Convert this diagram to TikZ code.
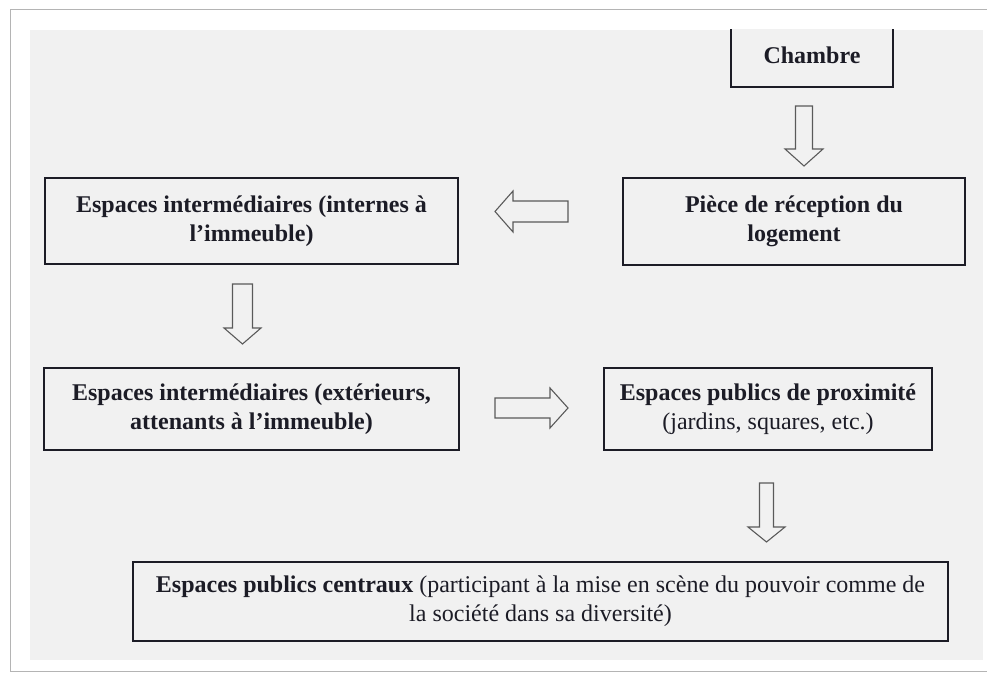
\documentclass[tikz,border=0pt]{standalone}
\usepackage{fontspec}
\setmainfont{Liberation Serif}
\definecolor{panel}{HTML}{F1F1F1}
\definecolor{ink}{HTML}{1C1C26}
\definecolor{frameline}{HTML}{B4B4B4}
\definecolor{arrowgray}{HTML}{5A5A5A}
\tikzset{
  box/.style={draw=ink, line width=1.6pt, fill=panel, text=ink, align=center,
    inner sep=0pt, font=\fontsize{24}{29}\selectfont},
  arrowline/.style={draw=arrowgray, line width=1.1pt, fill=panel, line join=miter},
  pics/blockarrow/.style n args={4}{code={
    \draw[arrowline] (0,-#2) -- ({#1-#4},-#2) -- ({#1-#4},-#3) -- (#1,0)
      -- ({#1-#4},#3) -- ({#1-#4},#2) -- (0,#2) -- cycle;
  }}
}
\begin{document}
\begin{tikzpicture}[x=1pt,y=1pt]
  \useasboundingbox (0,0) rectangle (987,674);
  % page with its thin frame
  \fill[white] (0,0) rectangle (987,674);
  \draw[frameline, line width=1pt] (987,2) -- (10,2) -- (10,664) -- (987,664);
  % grey panel holding the chart
  \fill[panel] (30,14) rectangle (983,644);

  \begin{scope}
    \clip (30,14) rectangle (983,644);
    \node[box, minimum width=162pt, minimum height=64pt] (chambre) at (812,619) {\textbf{Chambre}};
  \end{scope}

  \node[box, minimum width=342pt, minimum height=87pt] (piece) at (794,452.5)
    {\textbf{Pièce de réception du}\\\textbf{logement}};
  \node[box, minimum width=413pt, minimum height=86pt] (internes) at (251.5,453)
    {\textbf{Espaces intermédiaires (internes à}\\\textbf{l’immeuble)}};
  \node[box, minimum width=415pt, minimum height=82pt] (exterieurs) at (251.5,265)
    {\textbf{Espaces intermédiaires (extérieurs,}\\\textbf{attenants à l’immeuble)}};
  \node[box, minimum width=328pt, minimum height=82pt] (proximite) at (768,265)
    {\textbf{Espaces publics de proximité}\\(jardins, squares, etc.)};
  \node[box, minimum width=815pt, minimum height=79pt] (centraux) at (540.5,72.5)
    {\textbf{Espaces publics centraux} (participant à la mise en scène du pouvoir comme de\\la société dans sa diversité)};

  % hollow block arrows between the boxes
  \coordinate (a1) at (804,568);
  \coordinate (a2) at (568,462.5);
  \coordinate (a3) at (242.5,390);
  \coordinate (a4) at (495,266);
  \coordinate (a5) at (766.5,191);
  \pic[rotate=-90] at (a1) {blockarrow={60}{8.5}{19}{17}};
  \pic[rotate=180] at (a2) {blockarrow={73}{10.5}{20.5}{18}};
  \pic[rotate=-90] at (a3) {blockarrow={60}{10}{18.5}{16}};
  \pic at (a4) {blockarrow={73}{10}{20}{18}};
  \pic[rotate=-90] at (a5) {blockarrow={59}{7}{18.5}{15}};
\end{tikzpicture}
\end{document}
